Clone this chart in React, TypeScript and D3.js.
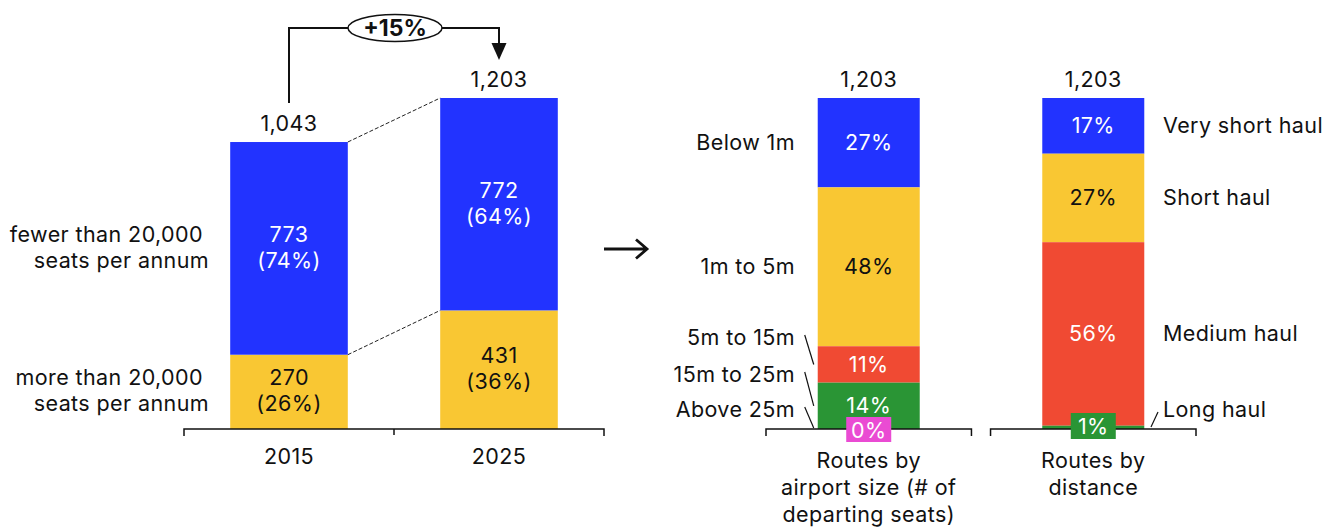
import * as d3 from "d3";

// left panel: seats per route, 2015 vs 2025
const years = ["2015", "2025"];
const bigRoutes = [270, 431];      // more than 20,000 seats per annum
const smallRoutes = [773, 772];    // fewer than 20,000 seats per annum
const yearTotals = [1043, 1203];
const bigShare = ["26%", "36%"];
const smallShare = ["74%", "64%"];
const growthLabel = "+15%";

// right panel: 2025 split
const panels = ["size", "distance"];
const panelTitles = [
  ["Routes by", "airport size (# of", "departing seats)"],
  ["Routes by", "distance"],
];
const sizeLabels = ["Below 1m", "1m to 5m", "5m to 15m", "15m to 25m", "Above 25m"];
const sizeShares = [27, 48, 11, 14, 0];
const distLabels = ["Very short haul", "Short haul", "Medium haul", "Long haul"];
const distShares = [17, 27, 56, 1];

const W = 1338;
const H = 529;
const FONT = "Inter, 'Noto Sans', sans-serif";
const colors = ["#2233ff", "#f9c733", "#f04a33", "#2a9535", "#ea4bd3"];
const textColor = ["#fff", "#111", "#fff", "#fff", "#fff"];
const fmt = d3.format(",");

const base = 429;
const top = 98;

// stack top-to-bottom list into [y0,y1] from the baseline
function stackDown(values: number[]) {
  const rev = values.slice().reverse();
  let acc = 0;
  const out = rev.map(v => {
    const s = [acc, acc + v];
    acc += v;
    return s;
  });
  return { segs: out.reverse(), total: acc };
}

export default function App() {
  const x = d3.scaleBand<string>().domain(years).range([184, 604]).padding(0);
  const y = d3.scaleLinear().domain([0, d3.max(yearTotals)!]).range([base, top]);
  const barW = x.bandwidth() * 0.56;
  const bx = (yr: string) => x(yr)! + (x.bandwidth() - barW) / 2;
  const cx = (yr: string) => x(yr)! + x.bandwidth() / 2;

  const px = d3.scaleBand<string>().domain(panels).range([766, 1196]).paddingInner(0.085);
  const pBarW = 102;
  const pcx = (p: string) => px(p)! + px.bandwidth() / 2;

  const size = stackDown(sizeShares);
  const dist = stackDown(distShares);
  const ys = d3.scaleLinear().domain([0, size.total]).range([base, top]);
  const yd = d3.scaleLinear().domain([0, dist.total]).range([base, top]);

  const c0 = cx(years[0]);
  const c1 = cx(years[1]);
  const ellX = (c0 + c1) / 2 + 1;
  const ellY = 28;

  const sizeBarLeft = pcx("size") - pBarW / 2;
  const sizeLabelY = [345, 382, 417];

  return (
    <svg width={W} height={H} style={{ position: "absolute", left: 0, top: 0 }}
      fontFamily={FONT} fontSize={21.5} letterSpacing={0.4}>
      {/* ---------- left chart ---------- */}
      {years.map((yr, i) => {
        const yBig = y(bigRoutes[i]);
        const yTop = y(yearTotals[i]);
        const midBig = (base + yBig) / 2;
        const midSmall = (yBig + yTop) / 2;
        return (
          <g key={yr}>
            <rect x={bx(yr)} y={yBig} width={barW} height={base - yBig} fill={colors[1]} />
            <rect x={bx(yr)} y={yTop} width={barW} height={yBig - yTop} fill={colors[0]} />
            <text x={cx(yr)} textAnchor="middle" fill="#fff">
              <tspan x={cx(yr)} y={midSmall - 6}>{smallRoutes[i]}</tspan>
              <tspan x={cx(yr)} y={midSmall + 20}>({smallShare[i]})</tspan>
            </text>
            <text x={cx(yr)} textAnchor="middle" fill="#111">
              <tspan x={cx(yr)} y={midBig - 7}>{bigRoutes[i]}</tspan>
              <tspan x={cx(yr)} y={midBig + 19}>({bigShare[i]})</tspan>
            </text>
            <text x={cx(yr)} y={yTop - 11} textAnchor="middle" fill="#111">{fmt(yearTotals[i])}</text>
            <text x={cx(yr)} y={464} textAnchor="middle" fill="#111">{yr}</text>
          </g>
        );
      })}
      {/* dashed connectors */}
      <line x1={bx(years[0]) + barW} y1={y(yearTotals[0])} x2={bx(years[1])} y2={y(yearTotals[1])}
        stroke="#222" strokeWidth={1} strokeDasharray="4,2" />
      <line x1={bx(years[0]) + barW} y1={y(bigRoutes[0])} x2={bx(years[1])} y2={y(bigRoutes[1])}
        stroke="#222" strokeWidth={1} strokeDasharray="4,2" />
      {/* axis */}
      <path d={`M${x.range()[0]},${base + 7}V${base}H${x.range()[1]}V${base + 7}`} fill="none" stroke="#111" strokeWidth={1.5} />
      <line x1={x(years[1])} x2={x(years[1])} y1={base} y2={base + 6} stroke="#111" strokeWidth={1.5} />
      {/* category labels */}
      <text textAnchor="end" fill="#111">
        <tspan x={203} y={242}>fewer than 20,000</tspan>
        <tspan x={209} y={268}>seats per annum</tspan>
      </text>
      <text textAnchor="end" fill="#111">
        <tspan x={203} y={385}>more than 20,000</tspan>
        <tspan x={209} y={411}>seats per annum</tspan>
      </text>
      {/* growth bracket */}
      <path d={`M${c0},103V${ellY}H${ellX - 47}`} fill="none" stroke="#111" strokeWidth={2} />
      <path d={`M${ellX + 47},${ellY}H${c1}V45`} fill="none" stroke="#111" strokeWidth={2} />
      <path d={`M${c1 - 7.5},43L${c1 + 7.5},43L${c1},60Z`} fill="#111" />
      <ellipse cx={ellX} cy={ellY} rx={47} ry={13.5} fill="#fff" stroke="#111" strokeWidth={1.5} />
      <text x={ellX} y={36} textAnchor="middle" fontWeight="bold" fontSize={23} fill="#111" letterSpacing={0}>{growthLabel}</text>

      {/* arrow between panels */}
      <path d="M604,249H646M636,239.5L647,249L636,258.5" fill="none" stroke="#111" strokeWidth={2.8} />

      {/* ---------- right chart ---------- */}
      {/* airport size */}
      {size.segs.map((s, i) => {
        const y0 = ys(s[0]);
        const y1 = ys(s[1]);
        return (
          <g key={sizeLabels[i]}>
            <rect x={sizeBarLeft} y={y1} width={pBarW} height={y0 - y1} fill={colors[i]} />
            {sizeShares[i] > 0 && (
              <text x={pcx("size")} y={(y0 + y1) / 2 + 7.5} textAnchor="middle" fill={textColor[i]}>{sizeShares[i]}%</text>
            )}
          </g>
        );
      })}
      {/* distance */}
      {dist.segs.map((s, i) => {
        const y0 = yd(s[0]);
        const y1 = yd(s[1]);
        const left = pcx("distance") - pBarW / 2;
        return (
          <g key={distLabels[i]}>
            <rect x={left} y={y1} width={pBarW} height={y0 - y1} fill={colors[i]} />
            {distShares[i] > 2 && (
              <text x={pcx("distance")} y={(y0 + y1) / 2 + 7.5} textAnchor="middle" fill={textColor[i]}>{distShares[i]}%</text>
            )}
          </g>
        );
      })}
      {/* axes */}
      {panels.map(p => (
        <path key={p} d={`M${px(p)!},${base + 7}V${base}H${px(p)! + px.bandwidth()}V${base + 7}`}
          fill="none" stroke="#111" strokeWidth={1.5} />
      ))}
      {/* small-value tags, drawn over the axis */}
      <rect x={pcx("size") - 22.5} y={417} width={45} height={25} fill={colors[4]} />
      <text x={pcx("size")} y={437.5} textAnchor="middle" fill="#fff">{sizeShares[4]}%</text>
      <rect x={pcx("distance") - 22.5} y={413} width={45} height={26} fill={colors[3]} />
      <text x={pcx("distance")} y={434} textAnchor="middle" fill="#fff">{distShares[3]}%</text>

      {/* totals */}
      {panels.map(p => (
        <text key={p} x={pcx(p)} y={87} textAnchor="middle" fill="#111">{fmt(yearTotals[1])}</text>
      ))}
      {/* panel titles */}
      {panels.map((p, i) => (
        <text key={p} textAnchor="middle" fill="#111">
          {panelTitles[i].map((t, j) => (
            <tspan key={j} x={pcx(p)} y={468 + j * 27}>{t}</tspan>
          ))}
        </text>
      ))}

      {/* size labels */}
      {sizeLabels.map((lab, i) => {
        const mid = (ys(size.segs[i][0]) + ys(size.segs[i][1])) / 2;
        const ly = i < 2 ? mid + 7.5 : sizeLabelY[i - 2];
        return (
          <text key={lab} x={795} y={ly} textAnchor="end" fill="#111">{lab}</text>
        );
      })}
      {[2, 3, 4].map(i => {
        const ly = sizeLabelY[i - 2];
        const mid = (ys(size.segs[i][0]) + ys(size.segs[i][1])) / 2;
        const endY = i === 4 ? base - 1 : mid;
        return (
          <line key={i} x1={sizeBarLeft - 13} y1={ly - 10} x2={sizeBarLeft - 4} y2={endY} stroke="#111" strokeWidth={1.2} />
        );
      })}

      {/* distance labels */}
      {distLabels.map((lab, i) => {
        const mid = (yd(dist.segs[i][0]) + yd(dist.segs[i][1])) / 2;
        const ly = i < 3 ? mid + 7.5 : 417;
        return (
          <text key={lab} x={1163} y={ly} fill="#111">{lab}</text>
        );
      })}
      <line x1={1151} y1={427} x2={1158} y2={412} stroke="#111" strokeWidth={1.2} />
    </svg>
  );
}
